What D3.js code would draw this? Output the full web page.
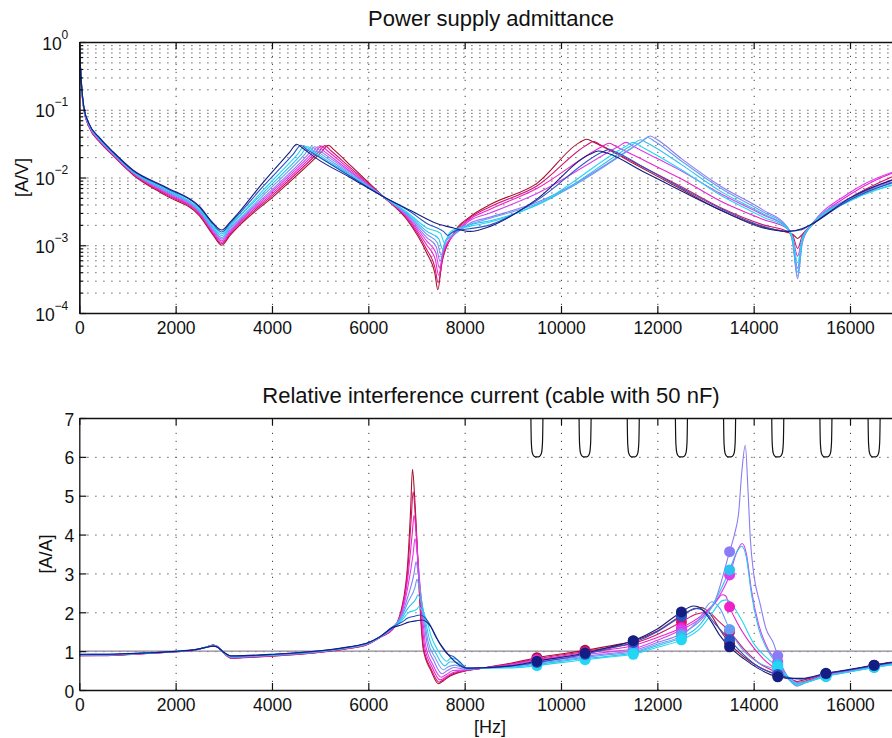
<!DOCTYPE html>
<html>
<head>
<meta charset="utf-8">
<script src="https://cdn.jsdelivr.net/npm/d3@7"></script>
<style>
  body { margin: 0; background: #fff; overflow: hidden; }
  svg { display: block; font-family: "Liberation Sans", Arial, Helvetica, sans-serif; }
</style>
</head>
<body>
<svg id="chart" width="892" height="738"></svg>
<script>
// ---- data ----
const xTicks = [0, 2000, 4000, 6000, 8000, 10000, 12000, 14000, 16000];
const admitTicks = [1e-4, 1e-3, 1e-2, 1e-1, 1];
const ratioTicks = [0, 1, 2, 3, 4, 5, 6, 7];

const seriesColors = ['#a4122e', '#d4146e', '#ee22c8', '#dc3cf0', '#8a7cf4',
                      '#6a9cf2', '#2ec0ee', '#22d6f4', '#2a52c4', '#141e82'];

// power supply admittance [Hz, A/V]
const admit0 = [[0,1],[25,0.40],[60,0.16],[100,0.095],[200,0.056],[430,0.033],[700,0.021],[1120,0.0109],[1800,0.0054],[2500,0.0027],[2783,0.0014],[2957,0.0010],[3130,0.0014],[3337,0.0020],[4063,0.0055],[5020,0.0235],[5170,0.030],[5290,0.0255],[5600,0.0158],[6314,0.0052],[6800,0.0024],[7215,0.00076],[7380,0.00039],[7443,0.00022],[7525,0.00054],[7768,0.0015],[8100,0.0026],[8530,0.0040],[9500,0.0082],[10390,0.033],[10537,0.0366],[10690,0.033],[11500,0.0162],[12500,0.0067],[13307,0.0033],[14200,0.00185],[14700,0.00155],[14810,0.00145],[14912,0.00126],[15010,0.00145],[15180,0.0019],[16000,0.0048],[17100,0.0105]];
const admit1 = [[0,1],[25,0.40],[60,0.162],[100,0.096],[200,0.0568],[430,0.0335],[700,0.0213],[1120,0.0111],[1800,0.0056],[2500,0.0028],[2783,0.00146],[2957,0.00105],[3130,0.00147],[3337,0.0021],[4028,0.0056],[4950,0.023],[5100,0.0295],[5220,0.025],[5600,0.0145],[6314,0.0052],[6800,0.0025],[7215,0.00086],[7380,0.00048],[7450,0.00028],[7540,0.00062],[7768,0.00145],[8100,0.0025],[8530,0.0037],[9500,0.0075],[10530,0.030],[10680,0.034],[10830,0.030],[11600,0.0156],[12500,0.0073],[13307,0.0036],[14200,0.0020],[14700,0.0016],[14810,0.0014],[14912,0.0009],[15010,0.0014],[15180,0.0019],[16000,0.0050],[17100,0.012]];
const admit2 = [[0,1],[25,0.41],[60,0.164],[100,0.097],[200,0.0576],[430,0.0341],[700,0.0216],[1120,0.0113],[1800,0.0058],[2500,0.0029],[2783,0.00152],[2957,0.0011],[3130,0.00153],[3337,0.0022],[3994,0.0057],[4880,0.0225],[5030,0.029],[5150,0.0248],[5600,0.0135],[6314,0.0052],[6800,0.0026],[7215,0.0010],[7390,0.00062],[7460,0.00036],[7550,0.00075],[7768,0.00142],[8100,0.0024],[8530,0.0034],[9500,0.0069],[10850,0.0285],[11000,0.032],[11150,0.0285],[11800,0.0168],[12500,0.0095],[13307,0.0045],[14200,0.0024],[14700,0.00175],[14810,0.0013],[14912,0.00069],[15010,0.0013],[15180,0.0019],[16000,0.0056],[17100,0.0135]];
const admit3 = [[0,1],[25,0.41],[60,0.167],[100,0.098],[200,0.0584],[430,0.0346],[700,0.022],[1120,0.0115],[1800,0.0060],[2500,0.0030],[2783,0.00158],[2957,0.00116],[3130,0.0016],[3337,0.0023],[3958,0.0058],[4810,0.022],[4960,0.0285],[5080,0.0245],[5600,0.0127],[6314,0.0052],[6800,0.0027],[7215,0.00115],[7400,0.00078],[7475,0.00046],[7570,0.0009],[7768,0.0014],[8100,0.0023],[8530,0.0030],[9500,0.0058],[11200,0.029],[11350,0.033],[11500,0.029],[12000,0.019],[12500,0.0125],[13307,0.0058],[14200,0.0028],[14700,0.0018],[14810,0.0012],[14912,0.00046],[15010,0.0012],[15180,0.0019],[16000,0.0060],[17100,0.0135]];
const admit4 = [[0,1],[25,0.41],[60,0.169],[100,0.099],[200,0.0592],[430,0.0352],[700,0.0223],[1120,0.0117],[1800,0.0062],[2500,0.0031],[2783,0.00166],[2957,0.00123],[3130,0.0017],[3337,0.0024],[3924,0.0059],[4740,0.0215],[4890,0.0285],[5010,0.0245],[5600,0.0122],[6314,0.0052],[6800,0.0028],[7215,0.0013],[7410,0.00095],[7490,0.00058],[7590,0.0011],[7768,0.0014],[8100,0.0021],[8530,0.0026],[9500,0.0043],[11700,0.035],[11850,0.041],[12000,0.036],[12500,0.019],[13307,0.0075],[14200,0.0033],[14700,0.00185],[14810,0.0011],[14912,0.00032],[15010,0.0011],[15180,0.0019],[16000,0.0050],[17100,0.0095]];
const admit5 = [[0,1],[25,0.41],[60,0.171],[100,0.100],[200,0.060],[430,0.0357],[700,0.0226],[1120,0.0119],[1800,0.0064],[2500,0.0032],[2783,0.00174],[2957,0.0013],[3130,0.0018],[3337,0.0025],[3888,0.0061],[4670,0.0215],[4820,0.0285],[4940,0.0245],[5600,0.0116],[6314,0.0052],[6800,0.0029],[7215,0.00145],[7430,0.0011],[7510,0.00072],[7610,0.0012],[7768,0.00145],[8100,0.0020],[8530,0.0025],[9500,0.0041],[11650,0.033],[11800,0.039],[11950,0.034],[12500,0.0175],[13307,0.0070],[14200,0.0031],[14700,0.00185],[14810,0.0011],[14912,0.00035],[15010,0.0011],[15180,0.0019],[16000,0.0048],[17100,0.0090]];
const admit6 = [[0,1],[25,0.41],[60,0.173],[100,0.101],[200,0.0608],[430,0.0363],[700,0.0229],[1120,0.0121],[1800,0.0066],[2500,0.0033],[2783,0.00183],[2957,0.00138],[3130,0.0019],[3337,0.0027],[3853,0.0063],[4600,0.0215],[4750,0.0285],[4870,0.0245],[5600,0.0112],[6314,0.0052],[6800,0.0030],[7215,0.0016],[7460,0.00125],[7540,0.00088],[7640,0.0013],[7768,0.0016],[8100,0.0020],[8530,0.0023],[9500,0.0039],[11500,0.031],[11650,0.036],[11800,0.032],[12500,0.0155],[13307,0.0063],[14200,0.0029],[14700,0.0018],[14810,0.0012],[14912,0.0004],[15010,0.0012],[15180,0.0019],[16000,0.0046],[17100,0.0085]];
const admit7 = [[0,1],[25,0.42],[60,0.175],[100,0.102],[200,0.0616],[430,0.0368],[700,0.0232],[1120,0.0123],[1800,0.0068],[2500,0.0034],[2783,0.00193],[2957,0.00147],[3130,0.002],[3337,0.0028],[3818,0.0065],[4530,0.022],[4680,0.029],[4800,0.025],[5600,0.0107],[6314,0.0052],[6800,0.0031],[7215,0.0018],[7500,0.0015],[7580,0.00108],[7680,0.0015],[7768,0.0017],[8100,0.0019],[8530,0.0022],[9500,0.0040],[11350,0.029],[11500,0.033],[11650,0.029],[12500,0.013],[13307,0.0055],[14200,0.0026],[14700,0.00175],[14810,0.0013],[14912,0.00055],[15010,0.0013],[15180,0.0019],[16000,0.0045],[17100,0.0085]];
const admit8 = [[0,1],[25,0.42],[60,0.177],[100,0.103],[200,0.0624],[430,0.0374],[700,0.0236],[1120,0.0126],[1800,0.0070],[2500,0.0036],[2783,0.00203],[2957,0.00157],[3130,0.0021],[3337,0.003],[3778,0.0069],[4450,0.0225],[4600,0.030],[4720,0.026],[5000,0.0196],[5600,0.0107],[6314,0.0052],[6850,0.0032],[7215,0.0021],[7560,0.0016],[7650,0.0014],[7768,0.0016],[8100,0.00175],[8530,0.0020],[9500,0.0046],[10850,0.0235],[11000,0.026],[11150,0.0235],[11800,0.0131],[12500,0.0070],[13307,0.0035],[14200,0.0019],[14700,0.0016],[15000,0.0017],[15180,0.0020],[16000,0.0047],[17100,0.0095]];
const admit9 = [[0,1],[25,0.42],[60,0.18],[100,0.105],[200,0.063],[430,0.038],[700,0.024],[1120,0.0128],[1800,0.0072],[2500,0.0037],[2783,0.0021],[2957,0.00168],[3130,0.0022],[3337,0.0032],[3800,0.0082],[4365,0.0235],[4515,0.031],[4640,0.027],[4930,0.019],[5600,0.0102],[6314,0.0052],[6900,0.0032],[7422,0.0021],[7768,0.0018],[8114,0.0016],[8530,0.0019],[9500,0.0048],[10600,0.022],[10780,0.0246],[10950,0.023],[11700,0.0123],[12500,0.0063],[13307,0.0033],[14200,0.0018],[14700,0.0016],[15000,0.00175],[15180,0.0020],[16000,0.0050],[17100,0.0105]];

// relative interference current [Hz, A/A]
const ratio0 = [[0,0.88],[500,0.885],[1000,0.91],[1500,0.945],[2000,0.985],[2400,1.03],[2650,1.11],[2780,1.16],[2870,1.12],[3000,0.95],[3150,0.82],[3400,0.83],[4000,0.87],[5000,0.97],[5600,1.07],[6000,1.18],[6250,1.36],[6500,1.55],[6700,2.15],[6820,3.3],[6877,4.6],[6917,5.68],[6965,4.9],[7030,3.3],[7090,1.8],[7140,1.05],[7300,0.5],[7456,0.16],[7560,0.24],[7700,0.36],[8050,0.5],[8300,0.55],[9000,0.70],[9500,0.83],[10500,1.02],[11000,1.13],[11500,1.26],[12000,1.52],[12500,1.92],[12750,2.08],[12920,2.12],[13100,1.95],[13300,1.55],[13500,1.2],[13800,0.85],[14100,0.6],[14500,0.38],[14750,0.28],[14900,0.22],[15100,0.28],[15500,0.42],[16000,0.52],[16500,0.64],[17100,0.76]];
const ratio1 = [[0,0.885],[500,0.889],[1000,0.913],[1500,0.947],[2000,0.986],[2400,1.031],[2650,1.109],[2780,1.157],[2870,1.118],[3000,0.952],[3150,0.827],[3400,0.836],[4000,0.876],[5000,0.974],[5600,1.074],[6000,1.184],[6250,1.362],[6500,1.56],[6700,2.1],[6820,3.1],[6890,4.4],[6930,5.1],[6975,4.5],[7040,3.0],[7100,1.75],[7150,1.08],[7300,0.55],[7470,0.2],[7580,0.28],[7720,0.4],[8050,0.5],[8300,0.55],[9000,0.68],[9500,0.80],[10500,0.99],[11000,1.09],[11500,1.20],[12000,1.43],[12500,1.75],[12800,1.95],[13050,2.0],[13250,1.8],[13500,1.5],[13800,1.05],[14100,0.7],[14500,0.44],[14800,0.26],[14950,0.2],[15150,0.26],[15500,0.40],[16000,0.5],[16500,0.63],[17100,0.75]];
const ratio2 = [[0,0.89],[500,0.893],[1000,0.916],[1500,0.949],[2000,0.987],[2400,1.032],[2650,1.108],[2780,1.153],[2870,1.116],[3000,0.954],[3150,0.833],[3400,0.842],[4000,0.881],[5000,0.979],[5600,1.079],[6000,1.189],[6250,1.364],[6500,1.57],[6700,2.05],[6820,2.9],[6910,4.0],[6950,4.5],[6995,4.0],[7060,2.8],[7120,1.7],[7170,1.1],[7320,0.6],[7490,0.26],[7600,0.33],[7740,0.44],[8050,0.51],[8300,0.55],[9000,0.67],[9500,0.78],[10500,0.96],[11000,1.04],[11500,1.14],[12000,1.35],[12500,1.6],[12900,1.9],[13200,2.25],[13350,2.45],[13420,2.42],[13500,2.14],[13650,1.75],[13900,1.25],[14200,0.8],[14500,0.5],[14800,0.25],[14950,0.17],[15150,0.24],[15500,0.40],[16000,0.5],[16500,0.62],[17100,0.74]];
const ratio3 = [[0,0.895],[500,0.897],[1000,0.919],[1500,0.951],[2000,0.988],[2400,1.033],[2650,1.107],[2780,1.15],[2870,1.114],[3000,0.956],[3150,0.84],[3400,0.848],[4000,0.887],[5000,0.983],[5600,1.083],[6000,1.193],[6250,1.366],[6500,1.58],[6700,2.0],[6820,2.65],[6930,3.5],[6970,3.9],[7015,3.5],[7080,2.6],[7140,1.7],[7190,1.15],[7340,0.65],[7510,0.33],[7620,0.4],[7760,0.5],[8050,0.52],[8300,0.55],[9000,0.65],[9500,0.76],[10500,0.91],[11000,0.98],[11500,1.06],[12000,1.28],[12500,1.55],[12900,1.85],[13200,2.25],[13500,2.96],[13650,3.55],[13760,3.77],[13850,3.5],[13950,2.6],[14100,1.7],[14300,1.05],[14500,0.72],[14700,0.35],[14900,0.15],[15100,0.22],[15500,0.38],[16000,0.5],[16500,0.62],[17100,0.74]];
const ratio4 = [[0,0.90],[500,0.90],[1000,0.922],[1500,0.953],[2000,0.989],[2400,1.034],[2650,1.106],[2780,1.147],[2870,1.112],[3000,0.958],[3150,0.847],[3400,0.854],[4000,0.892],[5000,0.988],[5600,1.088],[6000,1.198],[6250,1.368],[6500,1.59],[6700,1.95],[6820,2.4],[6950,3.0],[6990,3.3],[7035,3.0],[7100,2.35],[7160,1.7],[7220,1.2],[7360,0.75],[7530,0.42],[7640,0.5],[7780,0.58],[8050,0.53],[8300,0.56],[9000,0.63],[9500,0.72],[10500,0.87],[11000,0.94],[11500,1.01],[12000,1.22],[12500,1.45],[12900,1.8],[13200,2.3],[13500,3.56],[13600,4.0],[13687,4.55],[13757,5.66],[13826,6.3],[13880,5.2],[13930,3.9],[14000,3.0],[14137,2.2],[14250,1.6],[14413,1.2],[14500,0.88],[14700,0.35],[14900,0.1],[15100,0.2],[15500,0.36],[16000,0.48],[16500,0.60],[17100,0.72]];
const ratio5 = [[0,0.905],[500,0.905],[1000,0.925],[1500,0.955],[2000,0.99],[2400,1.035],[2650,1.105],[2780,1.143],[2870,1.11],[3000,0.96],[3150,0.853],[3400,0.86],[4000,0.898],[5000,0.992],[5600,1.092],[6000,1.202],[6250,1.37],[6500,1.6],[6700,1.9],[6820,2.25],[6970,2.65],[7010,2.85],[7055,2.65],[7120,2.2],[7180,1.7],[7240,1.25],[7380,0.85],[7560,0.52],[7660,0.6],[7800,0.64],[8050,0.54],[8300,0.56],[9000,0.61],[9500,0.69],[10500,0.84],[11000,0.91],[11500,0.98],[12000,1.18],[12500,1.4],[12850,1.8],[13133,2.27],[13300,2.1],[13500,1.56],[13800,1.0],[14100,0.7],[14500,0.5],[14750,0.3],[14900,0.18],[15100,0.22],[15500,0.37],[16000,0.48],[16500,0.60],[17100,0.72]];
const ratio6 = [[0,0.91],[500,0.91],[1000,0.928],[1500,0.957],[2000,0.991],[2400,1.036],[2650,1.104],[2780,1.14],[2870,1.108],[3000,0.962],[3150,0.86],[3400,0.866],[4000,0.903],[5000,0.997],[5600,1.097],[6000,1.207],[6250,1.372],[6500,1.61],[6700,1.85],[6820,2.1],[6990,2.35],[7030,2.45],[7075,2.35],[7140,2.05],[7200,1.7],[7270,1.3],[7400,0.95],[7590,0.62],[7690,0.72],[7820,0.72],[8050,0.55],[8300,0.56],[9000,0.59],[9500,0.66],[10500,0.81],[11000,0.87],[11500,0.95],[12000,1.14],[12500,1.35],[12900,1.7],[13200,2.3],[13500,3.09],[13650,3.55],[13750,3.7],[13850,3.4],[13950,2.5],[14100,1.6],[14300,1.0],[14500,0.65],[14700,0.3],[14900,0.12],[15100,0.2],[15500,0.35],[16000,0.47],[16500,0.58],[17100,0.7]];
const ratio7 = [[0,0.912],[500,0.913],[1000,0.93],[1500,0.958],[2000,0.992],[2400,1.037],[2650,1.103],[2780,1.137],[2870,1.106],[3000,0.964],[3150,0.867],[3400,0.872],[4000,0.909],[5000,1.001],[5600,1.101],[6000,1.211],[6250,1.374],[6500,1.62],[6700,1.8],[6820,1.98],[7010,2.08],[7050,2.15],[7095,2.08],[7160,1.95],[7230,1.72],[7300,1.4],[7430,1.05],[7630,0.74],[7720,0.82],[7850,0.78],[8050,0.56],[8300,0.57],[9000,0.57],[9500,0.63],[10500,0.78],[11000,0.85],[11500,0.92],[12000,1.1],[12500,1.29],[12900,1.6],[13150,2.0],[13350,2.3],[13450,2.32],[13550,2.2],[13750,1.8],[14000,1.2],[14250,0.85],[14500,0.6],[14750,0.3],[14900,0.15],[15100,0.2],[15500,0.35],[16000,0.47],[16500,0.58],[17100,0.7]];
const ratio8 = [[0,0.915],[500,0.917],[1000,0.932],[1500,0.959],[2000,0.994],[2400,1.038],[2650,1.102],[2780,1.133],[2870,1.103],[3000,0.967],[3150,0.873],[3400,0.878],[4000,0.914],[5000,1.006],[5600,1.106],[6000,1.216],[6250,1.377],[6500,1.62],[6700,1.75],[6820,1.85],[6960,1.9],[7080,1.93],[7160,1.88],[7250,1.74],[7350,1.52],[7480,1.2],[7650,0.92],[7780,0.85],[7900,0.72],[8050,0.57],[8300,0.57],[9000,0.62],[9500,0.71],[10500,0.92],[11000,1.07],[11500,1.22],[12000,1.5],[12500,1.9],[12800,2.1],[12950,2.05],[13200,1.7],[13500,1.29],[13800,0.9],[14100,0.6],[14500,0.4],[14800,0.3],[15000,0.28],[15500,0.42],[16000,0.52],[16500,0.63],[17100,0.75]];
const ratio9 = [[0,0.92],[500,0.92],[1000,0.935],[1500,0.96],[2000,0.995],[2400,1.04],[2650,1.10],[2780,1.13],[2870,1.10],[3000,0.97],[3150,0.88],[3400,0.885],[4000,0.92],[5000,1.01],[5600,1.11],[6000,1.22],[6250,1.38],[6500,1.6],[6700,1.68],[6820,1.74],[6990,1.78],[7110,1.8],[7200,1.76],[7300,1.62],[7400,1.37],[7600,1.0],[7838,0.69],[8050,0.56],[8300,0.57],[9000,0.63],[9500,0.74],[10500,0.95],[11000,1.1],[11500,1.27],[12000,1.57],[12500,2.01],[12750,2.16],[12850,2.14],[13100,1.8],[13300,1.4],[13500,1.11],[13800,0.8],[14100,0.55],[14500,0.34],[14800,0.3],[15000,0.3],[15500,0.43],[16000,0.53],[16500,0.64],[17100,0.76]];

// notch filter sketches along the top of the lower plot
const notchCenters = [9500, 10500, 11500, 12500, 13500, 14500, 15500, 16500];
const notchOffsets = [-125, -122, -118, -110, -95, -70, -35, 0, 35, 70, 95, 110, 118, 122, 125];
const notchLevels = [7, 6.7, 6.45, 6.25, 6.1, 6.03, 6.0, 6.0, 6.0, 6.03, 6.1, 6.25, 6.45, 6.7, 7];

const admitSeries = [admit0, admit1, admit2, admit3, admit4, admit5, admit6, admit7, admit8, admit9];
const ratioSeries = [ratio0, ratio1, ratio2, ratio3, ratio4, ratio5, ratio6, ratio7, ratio8, ratio9];

// ---- layout ----
const svg = d3.select('#chart');
const plotLeft = 79.3, plotRight = 903;   // right edge sits just outside the window
const topY0 = 42, topY1 = 313;
const botY0 = 418, botY1 = 690;
const TICK_FONT = 17.5;
const intFmt = d3.format('d');

const x = d3.scaleLinear().domain([0, 17100]).range([plotLeft, plotRight]);
const yAdmit = d3.scaleLog().domain([1e-4, 1]).range([topY1, topY0]);
const yRatio = d3.scaleLinear().domain([0, 7]).range([botY1, botY0]);

const defs = svg.append('defs');
defs.append('clipPath').attr('id', 'clip-top').append('rect')
  .attr('x', plotLeft).attr('y', topY0).attr('width', plotRight - plotLeft).attr('height', topY1 - topY0);
defs.append('clipPath').attr('id', 'clip-bot').append('rect')
  .attr('x', plotLeft).attr('y', botY0).attr('width', plotRight - plotLeft).attr('height', botY1 - botY0);

function styleGrid(g) {
  g.select('.domain').remove();
  g.selectAll('.tick line')
    .attr('stroke', '#444').attr('stroke-width', 1).attr('stroke-dasharray', '1.2,6.8');
}

function styleAxis(g) {
  g.select('.domain').attr('stroke', '#111').attr('stroke-width', 1.3);
  g.selectAll('.tick line').attr('stroke', '#111').attr('stroke-width', 1.2);
  g.selectAll('.tick text')
    .attr('font-size', TICK_FONT).attr('fill', '#111')
    .attr('font-family', '"Liberation Sans", Arial, sans-serif');
}

const innerGrid = xTicks.filter(v => v > 0);

// ---- top plot: admittance ----
svg.append('g').attr('transform', `translate(0,${topY1})`)
  .call(d3.axisBottom(x).tickValues(innerGrid).tickSize(-(topY1 - topY0)).tickFormat(''))
  .call(styleGrid);

const minorAdmit = yAdmit.ticks().filter(v => !admitTicks.includes(v));
const admitGrid = yAdmit.ticks().filter(v => v > 1e-4 && v < 1);
svg.append('g').attr('transform', `translate(${plotLeft},0)`)
  .call(d3.axisLeft(yAdmit).tickValues(admitGrid).tickSize(-(plotRight - plotLeft)).tickFormat(''))
  .call(styleGrid);

const topLines = svg.append('g').attr('clip-path', 'url(#clip-top)');
const admitLine = d3.line()
  .x(d => x(d[0])).y(d => yAdmit(d[1]))
  .curve(d3.curveMonotoneX);
admitSeries.forEach((s, i) => {
  topLines.append('path').datum(s)
    .attr('d', admitLine)
    .attr('fill', 'none')
    .attr('stroke', seriesColors[i])
    .attr('stroke-width', 1.1);
});

svg.append('g').attr('transform', `translate(0,${topY1})`)
  .call(d3.axisBottom(x).tickValues(xTicks).tickSize(-7).tickSizeOuter(0).tickPadding(9).tickFormat(intFmt))
  .call(styleAxis);
svg.append('g').attr('transform', `translate(0,${topY0})`)
  .call(d3.axisTop(x).tickValues(xTicks).tickSize(-7).tickSizeOuter(0).tickFormat(''))
  .call(styleAxis);
svg.append('g').attr('transform', `translate(${plotLeft},0)`)
  .call(d3.axisLeft(yAdmit).tickValues(minorAdmit).tickSize(-4).tickSizeOuter(0).tickFormat(''))
  .call(styleAxis);

const admitAxis = svg.append('g').attr('transform', `translate(${plotLeft},0)`)
  .call(d3.axisLeft(yAdmit).tickValues(admitTicks).tickSize(-7).tickSizeOuter(0).tickPadding(11).tickFormat(''))
  .call(styleAxis);
admitAxis.selectAll('.tick text').each(function(v) {
  const t = d3.select(this).attr('dy', '0.4em');
  const e = Math.round(Math.log10(v));
  t.append('tspan').text('10');
  t.append('tspan').attr('font-size', 12).attr('dy', -11)
    .text(e === 0 ? '0' : '\u2212' + Math.abs(e));
});

svg.append('text')
  .attr('x', 491).attr('y', 26).attr('text-anchor', 'middle')
  .attr('font-size', 22).attr('fill', '#111')
  .text('Power supply admittance');

svg.append('text')
  .attr('transform', `translate(22,${(topY0 + topY1) / 2}) rotate(-90)`)
  .attr('text-anchor', 'middle').attr('dy', '0.35em')
  .attr('font-size', 18).attr('fill', '#111')
  .text('[A/V]');

// ---- bottom plot: relative interference current ----
svg.append('g').attr('transform', `translate(0,${botY1})`)
  .call(d3.axisBottom(x).tickValues(innerGrid).tickSize(-(botY1 - botY0)).tickFormat(''))
  .call(styleGrid);
svg.append('g').attr('transform', `translate(${plotLeft},0)`)
  .call(d3.axisLeft(yRatio).tickValues(ratioTicks.filter(v => v > 0 && v < 7))
    .tickSize(-(plotRight - plotLeft)).tickFormat(''))
  .call(styleGrid);

const botLines = svg.append('g').attr('clip-path', 'url(#clip-bot)');

botLines.append('line')
  .attr('x1', plotLeft).attr('x2', plotRight)
  .attr('y1', yRatio(1)).attr('y2', yRatio(1))
  .attr('stroke', '#8f8494').attr('stroke-width', 1.1);

const ratioLine = d3.line()
  .x(d => x(d[0])).y(d => yRatio(d[1]))
  .curve(d3.curveMonotoneX);
ratioSeries.forEach((s, i) => {
  botLines.append('path').datum(s)
    .attr('d', ratioLine)
    .attr('fill', 'none')
    .attr('stroke', seriesColors[i])
    .attr('stroke-width', 1.1);
});

notchCenters.forEach(c => {
  const pts = notchOffsets.map((o, j) => [c + o, notchLevels[j]]);
  botLines.append('path').datum(pts)
    .attr('d', ratioLine)
    .attr('fill', 'none')
    .attr('stroke', '#111')
    .attr('stroke-width', 1.2);
});

ratioSeries.forEach((s, i) => {
  const marks = s.filter(d => notchCenters.includes(d[0]));
  botLines.append('g').selectAll('circle').data(marks).join('circle')
    .attr('cx', d => x(d[0])).attr('cy', d => yRatio(d[1]))
    .attr('r', 5.5)
    .attr('fill', seriesColors[i]);
});

svg.append('g').attr('transform', `translate(0,${botY1})`)
  .call(d3.axisBottom(x).tickValues(xTicks).tickSize(-7).tickSizeOuter(0).tickPadding(9).tickFormat(intFmt))
  .call(styleAxis);
svg.append('g').attr('transform', `translate(0,${botY0})`)
  .call(d3.axisTop(x).tickValues(xTicks).tickSize(-7).tickSizeOuter(0).tickFormat(''))
  .call(styleAxis);
svg.append('g').attr('transform', `translate(${plotLeft},0)`)
  .call(d3.axisLeft(yRatio).tickValues(ratioTicks).tickSize(-7).tickSizeOuter(0).tickPadding(5).tickFormat(intFmt))
  .call(styleAxis)
  .call(g => g.selectAll('.tick text').attr('dy', '0.4em'));

svg.append('text')
  .attr('x', 491).attr('y', 403).attr('text-anchor', 'middle')
  .attr('font-size', 22).attr('fill', '#111')
  .text('Relative interference current (cable with 50 nF)');

svg.append('text')
  .attr('transform', `translate(46,${(botY0 + botY1) / 2}) rotate(-90)`)
  .attr('text-anchor', 'middle').attr('dy', '0.35em')
  .attr('font-size', 18).attr('fill', '#111')
  .text('[A/A]');

svg.append('text')
  .attr('x', 490).attr('y', 733).attr('text-anchor', 'middle')
  .attr('font-size', 18).attr('fill', '#111')
  .text('[Hz]');
</script>
</body>
</html>
